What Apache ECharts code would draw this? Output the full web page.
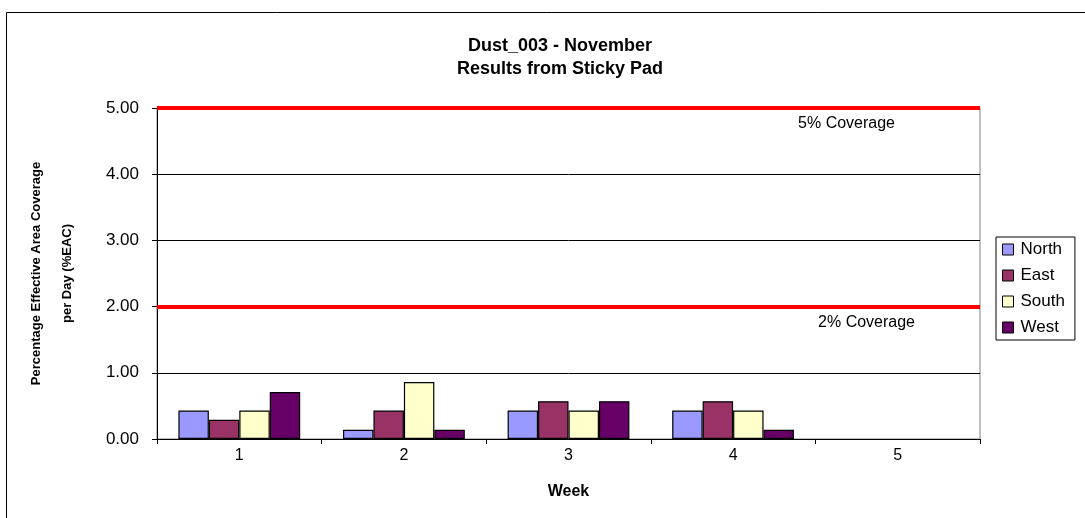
<!DOCTYPE html>
<html>
<head>
<meta charset="utf-8">
<script src="https://cdn.jsdelivr.net/npm/echarts@6/dist/echarts.min.js"></script>
<style>
    * { margin: 0; padding: 0; }
    body { background: #fff; }
    #chart { width: 1085px; height: 518px; }
</style>
</head>
<body>
<div id="chart"></div>
<script>
    // data
    var weeks = ['1', '2', '3', '4', '5'];
    var north = [0.43, 0.14, 0.43, 0.43, null];
    var east = [0.29, 0.43, 0.57, 0.57, null];
    var south = [0.43, 0.86, 0.43, 0.43, null];
    var west = [0.71, 0.14, 0.57, 0.14, null];
    var yTicks = [0, 1, 2, 3, 4, 5];
    var limitLines = [
        { value: 5, label: '5% Coverage', pad: 77 },
        { value: 2, label: '2% Coverage', pad: 57 }
    ];

    var font = 'Liberation Sans, Arial, sans-serif';

    function barSeries(name, data, color, withLines) {
        var s = {
            name: name,
            type: 'bar',
            data: data,
            barGap: 0,
            barCategoryGap: '26%',
            itemStyle: { color: color, borderColor: '#000', borderWidth: 1.2 }
        };
        if (withLines) {
            // red limit lines
            s.markLine = {
                silent: true,
                symbol: 'none',
                animation: false,
                lineStyle: { color: '#ff0000', width: 4, type: 'solid' },
                data: limitLines.map(function (l) {
                    return {
                        yAxis: l.value,
                        label: {
                            show: true,
                            formatter: l.label,
                            position: 'insideEndBottom',
                            distance: 8,
                            padding: [0, l.pad, 0, 0],
                            color: '#000',
                            fontFamily: font,
                            fontSize: 16
                        }
                    };
                })
            };
        }
        return s;
    }

    var myChart = echarts.init(document.getElementById('chart'));
    var option = {
        backgroundColor: '#fff',
        animation: false,
        title: {
            text: 'Dust_003 - November\nResults from Sticky Pad',
            left: 555,
            top: 30,
            textAlign: 'center',
            textStyle: { fontFamily: font, fontSize: 18, fontWeight: 'bold', color: '#000', lineHeight: 23 }
        },
        graphic: [{
            type: 'rect',
            left: 4,
            top: 10,
            shape: { width: 1100, height: 520 },
            style: { fill: 'none', stroke: '#000', lineWidth: 1 },
            silent: true,
            z: -1
        }],
        legend: {
            orient: 'vertical',
            left: 996,
            top: 237,
            padding: [4, 10, 4, 6],
            itemGap: 9,
            itemWidth: 11,
            itemHeight: 11,
            icon: 'rect',
            borderColor: '#000',
            borderWidth: 1,
            itemStyle: { borderColor: '#000', borderWidth: 1 },
            textStyle: { fontFamily: font, fontSize: 17, color: '#000', padding: [0, 0, 0, 2] },
            data: ['North', 'East', 'South', 'West']
        },
        grid: {
            left: 157,
            right: 105,
            top: 108,
            bottom: 79,
            show: true,
            borderColor: '#808080',
            borderWidth: 1
        },
        xAxis: {
            type: 'category',
            data: weeks,
            name: 'Week',
            nameLocation: 'middle',
            nameGap: 45,
            nameTextStyle: { fontFamily: font, fontSize: 16, fontWeight: 'bold', color: '#000' },
            axisLine: { lineStyle: { color: '#000', width: 1 } },
            axisTick: { show: true, length: 5, lineStyle: { color: '#000' } },
            axisLabel: { fontFamily: font, fontSize: 16, color: '#000', margin: 9 }
        },
        yAxis: {
            type: 'value',
            min: yTicks[0],
            max: yTicks[yTicks.length - 1],
            interval: 1,
            name: 'Percentage Effective Area Coverage\nper Day (%EAC)',
            nameLocation: 'middle',
            nameGap: 74,
            nameTextStyle: {
                fontFamily: font,
                fontSize: 13,
                fontWeight: 'bold',
                color: '#000',
                lineHeight: 31
            },
            axisLine: { show: true, lineStyle: { color: '#000', width: 1 } },
            axisTick: { show: true, length: 5, lineStyle: { color: '#000' } },
            splitLine: { lineStyle: { color: '#000', width: 1 } },
            axisLabel: {
                fontFamily: font,
                fontSize: 17,
                color: '#000',
                margin: 18,
                formatter: function (v) { return v.toFixed(2); }
            }
        },
        series: [
            barSeries('North', north, '#9999ff', true),
            barSeries('East', east, '#993366', false),
            barSeries('South', south, '#ffffcc', false),
            barSeries('West', west, '#660066', false)
        ]
    };
    myChart.setOption(option);
</script>
</body>
</html>
